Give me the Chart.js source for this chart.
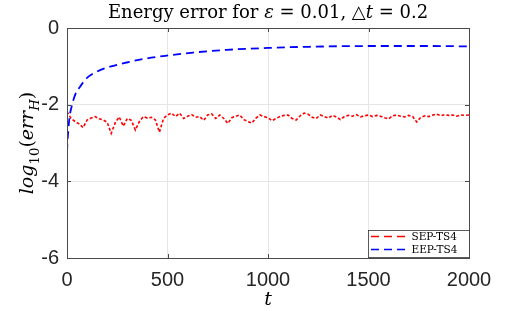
<!DOCTYPE html>
<html>
<head>
<meta charset="utf-8">
<script src="https://cdn.jsdelivr.net/npm/chart.js@4.4.0/dist/chart.umd.min.js"></script>
<style>
html,body{margin:0;padding:0;background:#fff;}
#wrap{width:518px;height:311px;position:relative;}
</style>
</head>
<body>
<div id="wrap"><canvas id="c" width="518" height="311"></canvas></div>
<script>
// ---- data ----
const xTicks = [0, 500, 1000, 1500, 2000];
const yTicks = [0, -2, -4, -6];

const sepT = [0,20,40,60,80,100,120,140,160,180,200,220,240,260,280,300,320,340,360,380,
  400,420,440,460,480,500,520,540,560,580,600,620,640,660,680,700,720,740,760,780,
  800,820,840,860,880,900,920,940,960,980,1000,1020,1040,1060,1080,1100,1120,1140,1160,1180,
  1200,1220,1240,1260,1280,1300,1320,1340,1360,1380,1400,1420,1440,1460,1480,1500,1520,1540,1560,1580,
  1600,1620,1640,1660,1680,1700,1720,1740,1760,1780,1800,1820,1840,1860,1880,1900,1920,1940,1960,1980,2000];
const sepV = [-2.18,-2.36,-2.44,-2.50,-2.60,-2.40,-2.35,-2.31,-2.37,-2.40,-2.46,-2.75,-2.47,-2.32,-2.56,-2.36,-2.41,-2.66,-2.44,-2.31,
  -2.35,-2.33,-2.40,-2.72,-2.36,-2.27,-2.22,-2.31,-2.22,-2.36,-2.30,-2.26,-2.33,-2.31,-2.41,-2.27,-2.24,-2.36,-2.27,-2.36,
  -2.49,-2.34,-2.30,-2.27,-2.39,-2.44,-2.48,-2.35,-2.27,-2.31,-2.34,-2.42,-2.36,-2.31,-2.28,-2.27,-2.36,-2.40,-2.29,-2.22,
  -2.25,-2.33,-2.36,-2.27,-2.31,-2.35,-2.28,-2.32,-2.39,-2.31,-2.28,-2.30,-2.26,-2.32,-2.29,-2.27,-2.31,-2.28,-2.30,-2.34,
  -2.37,-2.29,-2.27,-2.30,-2.32,-2.28,-2.31,-2.45,-2.33,-2.29,-2.31,-2.27,-2.25,-2.29,-2.26,-2.28,-2.27,-2.30,-2.27,-2.28,-2.27];

const eepT = [0, 2, 6, 12, 23, 40, 65, 98, 148, 214, 297, 378, 496, 628, 795, 1000, 1200, 1500, 1800, 2000];
const eepV = [-3.24, -3.0, -2.7, -2.35, -2.05, -1.75, -1.53, -1.31, -1.14, -1.01, -0.90, -0.81, -0.72, -0.64, -0.57, -0.52, -0.49, -0.47, -0.47, -0.48];

const seriesNames = ['SEP-TS4', 'EEP-TS4'];

// ---- helpers ----
function drawSegments(ctx, segs, baseSize, family) {
  let x = 0;
  for (const s of segs) {
    const size = s.sub ? baseSize * 0.7 : baseSize;
    ctx.font = (s.italic ? 'italic ' : '') + size + 'px ' + family;
    const dy = s.sub ? baseSize * 0.32 : 0;
    ctx.fillText(s.text, x, dy);
    x += ctx.measureText(s.text).width;
  }
  return x;
}
function measureSegments(ctx, segs, baseSize, family) {
  let w = 0;
  for (const s of segs) {
    const size = s.sub ? baseSize * 0.7 : baseSize;
    ctx.font = (s.italic ? 'italic ' : '') + size + 'px ' + family;
    w += ctx.measureText(s.text).width;
  }
  return w;
}

const SERIF = '"DejaVu Serif", "Liberation Serif", serif';

const decor = {
  id: 'decor',
  afterDraw(chart) {
    const ctx = chart.ctx;
    const a = chart.chartArea;
    const xs = chart.scales.x, ys = chart.scales.y;
    ctx.save();
    // axis box
    ctx.strokeStyle = '#4a4a4a';
    ctx.lineWidth = 1;
    ctx.strokeRect(Math.round(a.left) + 0.5, Math.round(a.top) + 0.5, Math.round(a.right - a.left), Math.round(a.bottom - a.top));
    // inner tick marks
    ctx.beginPath();
    for (const v of xTicks) {
      const px = Math.round(xs.getPixelForValue(v)) + 0.5;
      ctx.moveTo(px, a.top); ctx.lineTo(px, a.top + 4);
      ctx.moveTo(px, a.bottom); ctx.lineTo(px, a.bottom - 4);
    }
    for (const v of yTicks) {
      const py = Math.round(ys.getPixelForValue(v)) + 0.5;
      ctx.moveTo(a.left, py); ctx.lineTo(a.left + 4, py);
      ctx.moveTo(a.right, py); ctx.lineTo(a.right - 4, py);
    }
    ctx.stroke();

    ctx.fillStyle = '#000';
    ctx.textBaseline = 'alphabetic';
    ctx.textAlign = 'left';

    // title
    const tSegs = [
      {text: 'Energy error for '}, {text: 'ε', italic: true}, {text: ' = 0.01, △'},
      {text: 't', italic: true}, {text: ' = 0.2'}
    ];
    let tSize = 17;
    const tw0 = measureSegments(ctx, tSegs, tSize, SERIF);
    tSize = tSize * 379 / tw0;
    if (tSize > 18) tSize = 18;
    const tw = measureSegments(ctx, tSegs, tSize, SERIF);
    ctx.save();
    ctx.translate((a.left + a.right) / 2 - tw / 2, 18);
    drawSegments(ctx, tSegs, tSize, SERIF);
    ctx.restore();

    // y axis title
    const ySegs = [
      {text: 'log', italic: true}, {text: '10', sub: true}, {text: '('},
      {text: 'err', italic: true}, {text: 'H', italic: true, sub: true}, {text: ')'}
    ];
    const ySize = 19;
    const yw = measureSegments(ctx, ySegs, ySize, SERIF);
    ctx.save();
    ctx.translate(33, (a.top + a.bottom) / 2 + yw / 2);
    ctx.rotate(-Math.PI / 2);
    drawSegments(ctx, ySegs, ySize, SERIF);
    ctx.restore();

    // x axis title
    ctx.font = 'italic 19px ' + SERIF;
    ctx.textAlign = 'center';
    ctx.fillText('t', (a.left + a.right) / 2, 305);

    // legend
    const lx = 368.5, ly = 230.5, lw = 101, lh = 27;
    ctx.fillStyle = '#fff';
    ctx.fillRect(lx, ly, lw, lh);
    ctx.strokeStyle = '#333';
    ctx.lineWidth = 0.8;
    ctx.strokeRect(lx, ly, lw, lh);
    const rows = [
      {name: seriesNames[0], color: 'rgb(255,0,0)', y: 236.5},
      {name: seriesNames[1], color: 'rgb(0,0,255)', y: 249.5}
    ];
    ctx.textAlign = 'left';
    ctx.textBaseline = 'middle';
    for (const r of rows) {
      ctx.strokeStyle = r.color;
      ctx.lineWidth = 1.3;
      ctx.setLineDash([8, 5]);
      ctx.beginPath();
      ctx.moveTo(371, r.y); ctx.lineTo(409, r.y);
      ctx.stroke();
      ctx.setLineDash([]);
      ctx.fillStyle = '#000';
      ctx.font = '10.5px ' + SERIF;
      ctx.fillText(r.name, 411.5, r.y + 0.5);
    }
    ctx.restore();
  }
};

new Chart(document.getElementById('c'), {
  type: 'line',
  data: {
    datasets: [
      {
        label: seriesNames[0],
        data: sepT.map((t, i) => ({x: t, y: sepV[i]})),
        borderColor: 'rgb(255,0,0)',
        borderWidth: 1.6,
        borderDash: [3, 2],
        pointRadius: 0,
        tension: 0,
        order: 2
      },
      {
        label: seriesNames[1],
        data: eepT.map((t, i) => ({x: t, y: eepV[i]})),
        borderColor: 'rgb(0,0,255)',
        borderWidth: 1.8,
        borderDash: [8, 5],
        pointRadius: 0,
        cubicInterpolationMode: 'monotone',
        order: 1
      }
    ]
  },
  options: {
    responsive: false,
    animation: false,
    layout: {padding: {left: 0, top: 28, right: 49, bottom: 0}},
    plugins: {legend: {display: false}, title: {display: false}, tooltip: {enabled: false}},
    scales: {
      x: {
        type: 'linear', min: 0, max: 2000,
        afterBuildTicks: s => { s.ticks = xTicks.map(v => ({value: v})); },
        afterFit: s => { s.height = 53; },
        grid: {color: '#e6e6e6', drawTicks: false, lineWidth: 1},
        border: {display: false},
        ticks: {padding: 10, color: '#262626', font: {family: '"Liberation Sans", Arial, sans-serif', size: 20}, maxRotation: 0, callback: v => String(v)}
      },
      y: {
        type: 'linear', min: -6, max: 0,
        afterBuildTicks: s => { s.ticks = yTicks.map(v => ({value: v})); },
        afterFit: s => { s.width = 67; },
        grid: {color: '#e6e6e6', drawTicks: false, lineWidth: 1},
        border: {display: false},
        ticks: {padding: 8, color: '#262626', font: {family: '"Liberation Sans", Arial, sans-serif', size: 20}, callback: v => String(v)}
      }
    }
  },
  plugins: [decor]
});
</script>
</body>
</html>
